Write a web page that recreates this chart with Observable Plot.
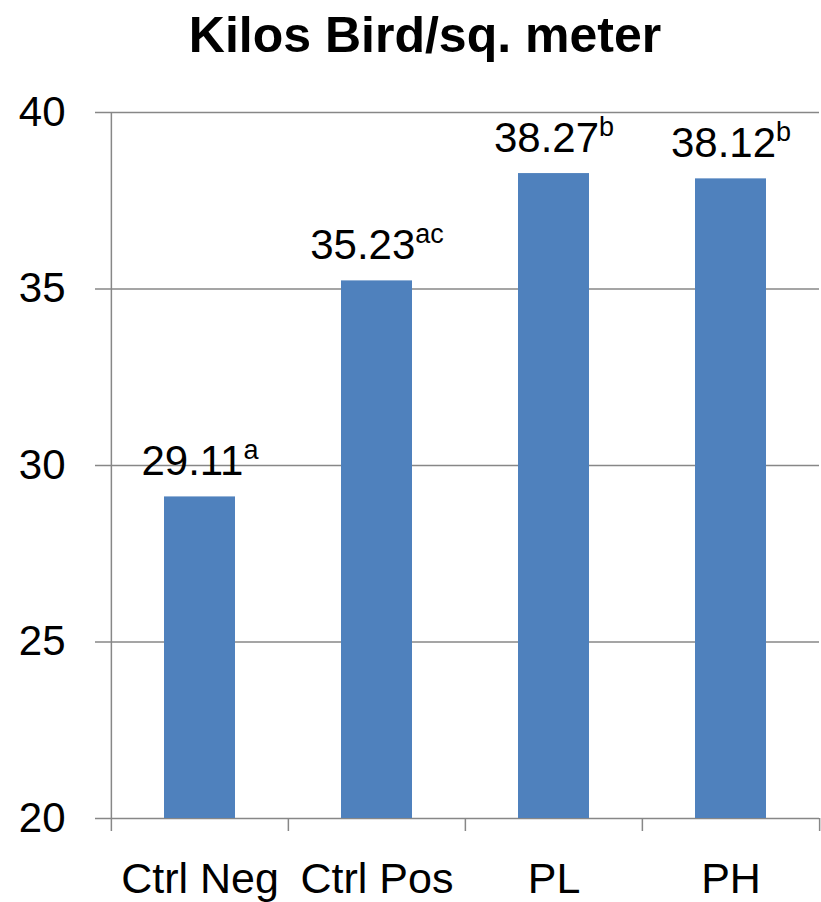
<!DOCTYPE html>
<html><head><meta charset="utf-8">
<script src="https://cdn.jsdelivr.net/npm/d3@7"></script>
<script src="https://cdn.jsdelivr.net/npm/@observablehq/plot@0.6"></script>
<style>
body{margin:0;background:#fff;font-family:"Liberation Sans",Arial,sans-serif;}
#title{height:75px;width:821px;box-sizing:border-box;padding-left:29px;text-align:center;font-weight:bold;font-size:50px;line-height:70px;color:#000;}
#chart svg{display:block;}
</style></head><body>
<div id="title">Kilos Bird/sq. meter</div>
<div id="chart"></div>
<script>
const categories = ["Ctrl Neg", "Ctrl Pos", "PL", "PH"];
const values = [29.11, 35.23, 38.27, 38.12];
const letters = ["a", "ac", "b", "b"];
const yTicks = [20, 25, 30, 35, 40];
const data = categories.map((c, i) => ({category: c, value: values[i], letter: letters[i]}));

const W = 821, H = 827, mL = 110, mR = 2, mT = 37, mB = 84;
const step = (W - mL - mR) / categories.length;
const grey = "#878787";

const chart = Plot.plot({
  width: W, height: H,
  marginLeft: mL, marginRight: mR, marginTop: mT, marginBottom: mB,
  style: {fontFamily: "'Liberation Sans', Arial, sans-serif", color: "#000", background: "transparent"},
  x: {domain: categories, paddingInner: 0.6, paddingOuter: 0.3, axis: null},
  y: {domain: [20, 40], axis: null},
  marks: [
    Plot.ruleY(yTicks, {stroke: grey, strokeWidth: 1.5}),
    Plot.ruleX([categories[0]], {x: d => d, dx: -step / 2, y1: yTicks[0], y2: yTicks[yTicks.length - 1], stroke: grey, strokeWidth: 1.5}),
    Plot.axisY({ticks: yTicks, tickSize: 15, tickPadding: 30, fontSize: 42, stroke: grey, strokeWidth: 1.5, label: null, tickFormat: d => d}),
    Plot.axisX({tickSize: 13, tickFormat: () => "", dx: -step / 2, stroke: grey, strokeWidth: 1.5, label: null}),
    Plot.axisX({ticks: [categories[categories.length - 1]], tickSize: 13, tickFormat: () => "", dx: step / 2, stroke: grey, strokeWidth: 1.5, label: null}),
    Plot.axisX({tickSize: 0, tickPadding: 44, fontSize: 43, label: null}),
    Plot.barY(data, {x: "category", y1: yTicks[0], y2: "value", fill: "#4F81BD"}),
    Plot.text(data, {x: "category", y: "value", text: d => d.value.toFixed(2) + "^" + d.letter, lineAnchor: "bottom", dy: -22, fontSize: 42, fill: "#000"})
  ]
});

const ns = "http://www.w3.org/2000/svg";
for (const t of chart.querySelectorAll("text")) {
  const s = t.textContent;
  if (s.includes("^")) {
    const [n, sup] = s.split("^");
    t.textContent = "";
    const a = document.createElementNS(ns, "tspan");
    a.textContent = n;
    const b = document.createElementNS(ns, "tspan");
    b.setAttribute("dy", "-16");
    b.setAttribute("font-size", "27");
    b.textContent = sup;
    t.append(a, b);
  }
}
document.getElementById("chart").append(chart);
</script>
</body></html>
